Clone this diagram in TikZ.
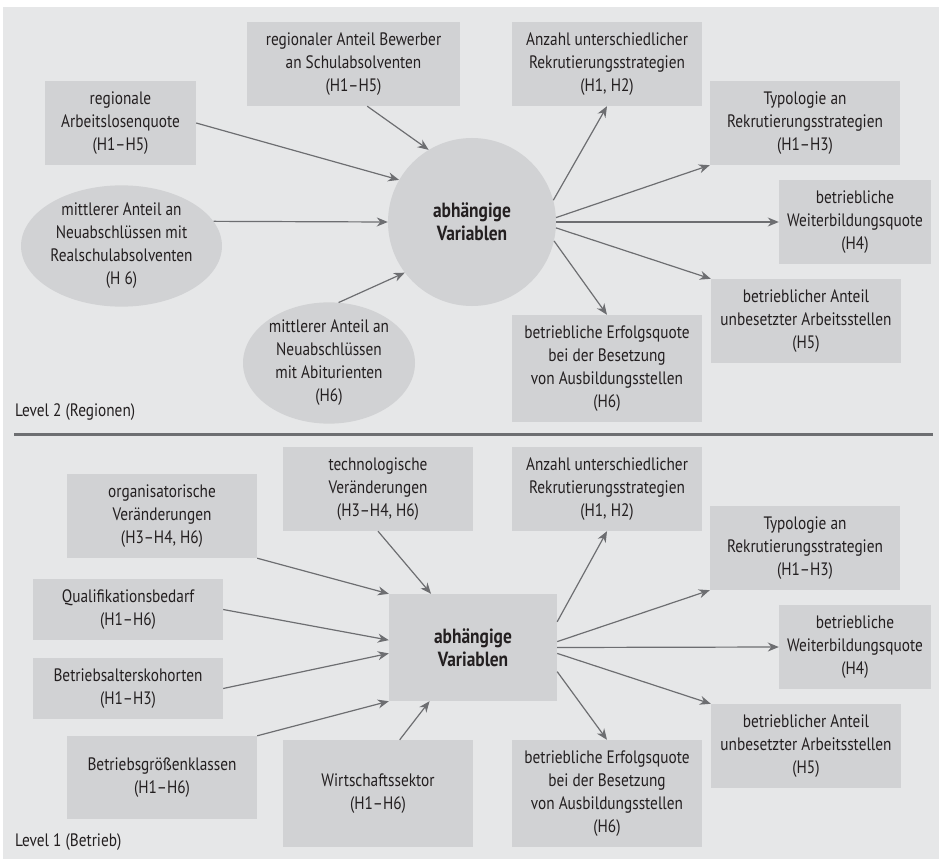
\documentclass[tikz,border=0pt]{standalone}
\usepackage{fontspec}
\setmainfont{PT Sans}[FakeStretch=0.85]
\usetikzlibrary{arrows.meta,shapes.geometric}
\definecolor{panelgray}{HTML}{E6E7E8}
\definecolor{boxgray}{HTML}{D1D2D4}
\definecolor{arrowgray}{HTML}{6D6E71}
\definecolor{textgray}{HTML}{231F20}
\tikzset{
  varbox/.style={fill=boxgray, inner sep=0pt, align=center, text=textgray,
    minimum width=190pt, minimum height=84pt, font=\fontsize{18}{23}\selectfont},
  varoval/.style={varbox, ellipse},
  depnode/.style={varbox, font=\fontsize{20.5}{23}\selectfont\bfseries},
  link/.style={draw=arrowgray, line width=1.2pt, -{Stealth[length=11pt,width=9pt]}},
  levellabel/.style={anchor=west, inner sep=0pt, text=textgray, font=\fontsize{18}{23}\selectfont}
}
\newcommand{\OutcomeColumn}[7]{%
  % #1 y-shift, #2 name suffix, #3 source node, #4..#7 source angles
  \begin{scope}[shift={(0,#1)}]
    \node[varbox] (anz#2) at (607,64) {Anzahl unterschiedlicher\\Rekrutierungsstrategien\\(H1, H2)};
    \node[varbox] (typ#2) at (805,123) {Typologie an\\Rekrutierungsstrategien\\(H1--H3)};
    \node[varbox, minimum width=152pt] (wb#2) at (855,222) {betriebliche\\Weiterbildungsquote\\(H4)};
    \node[varbox] (anteil#2) at (806,321) {betrieblicher Anteil\\unbesetzter Arbeitsstellen\\(H5)};
    \node[varbox, minimum height=107pt] (erf#2) at (607,368.5) {betriebliche Erfolgsquote\\bei der Besetzung\\von Ausbildungsstellen\\(H6)};
  \end{scope}
  \draw[link] (#3.#4) -- (anz#2.south);
  \draw[link] (#3.#5) -- (typ#2.south west);
  \draw[link] (#3.east) -- (wb#2.west);
  \draw[link] (#3.#6) -- (anteil#2.north west);
  \draw[link] (#3.#7) -- (erf#2.north);
}

\begin{document}
\begin{tikzpicture}[x=1pt, y=-1pt]
  \useasboundingbox (0,0) rectangle (939,861);
  \fill[panelgray] (3,7) rectangle (939,859);
  \draw[arrowgray, line width=2.5pt] (14,434.5) -- (933,434.5);

  % Level 2
  \node[depnode, circle, minimum size=168pt] (dv) at (472,222) {abhängige\\Variablen};
  \node[varbox, minimum width=151pt] (arbeit) at (120.5,123) {regionale\\Arbeitslosenquote\\(H1--H5)};
  \node[varbox, minimum width=213pt] (schul) at (353.5,64) {regionaler Anteil Bewerber\\an Schulabsolventen\\(H1--H5)};
  \node[varoval, minimum width=193pt, minimum height=114pt] (real) at (121.5,246) {mittlerer Anteil an\\Neuabschlüssen mit\\Realschulabsolventen\\(H 6)};
  \node[varoval, minimum width=172pt, minimum height=116pt] (abi) at (329,363) {mittlerer Anteil an\\Neuabschlüssen\\mit Abiturienten\\(H6)};
  \node[levellabel] (lvltwo) at (15,412) {Level 2 (Regionen)};
  \draw[link] (arbeit.east) -- (dv.150);
  \draw[link] (schul.-72) -- (dv.121);
  \draw[link] (real.15) -- (dv.west);
  \draw[link] (abi.81) -- (dv.217);
  \OutcomeColumn{0}{}{dv}{15}{3}{-4}{-13}

  % Level 1
  \node[depnode, minimum width=168pt, minimum height=107pt] (dvb) at (473,647.5) {abhängige\\Variablen};
  \node[varbox] (tech) at (378,489) {technologische\\Veränderungen\\(H3--H4, H6)};
  \node[varbox] (orga) at (162,516) {organisatorische\\Veränderungen\\(H3--H4, H6)};
  \node[varbox, minimum height=61pt] (quali) at (128,609.5) {Qualifikationsbedarf\\(H1--H6)};
  \node[varbox, minimum height=61pt] (alter) at (128,688.5) {Betriebsalterskohorten\\(H1--H3)};
  \node[varbox, minimum height=83pt] (groesse) at (162,777.5) {Betriebsgrößenklassen\\(H1--H6)};
  \node[varbox, minimum height=107pt] (wirt) at (378,793.5) {Wirtschaftssektor\\(H1--H6)};
  \node[levellabel] (lvlone) at (15,842) {Level 1 (Betrieb)};
  \draw[link] (orga.south east) -- (dvb.north west);
  \draw[link] (tech.south) -- (dvb.128);
  \draw[link] (quali.east) -- (dvb.175);
  \draw[link] (alter.east) -- (dvb.184);
  \draw[link] (groesse.north east) -- (dvb.south west);
  \draw[link] (wirt.68) -- (dvb.231);
  \OutcomeColumn{425}{b}{dvb}{17.5}{4}{-4}{-16}
\end{tikzpicture}
\end{document}
